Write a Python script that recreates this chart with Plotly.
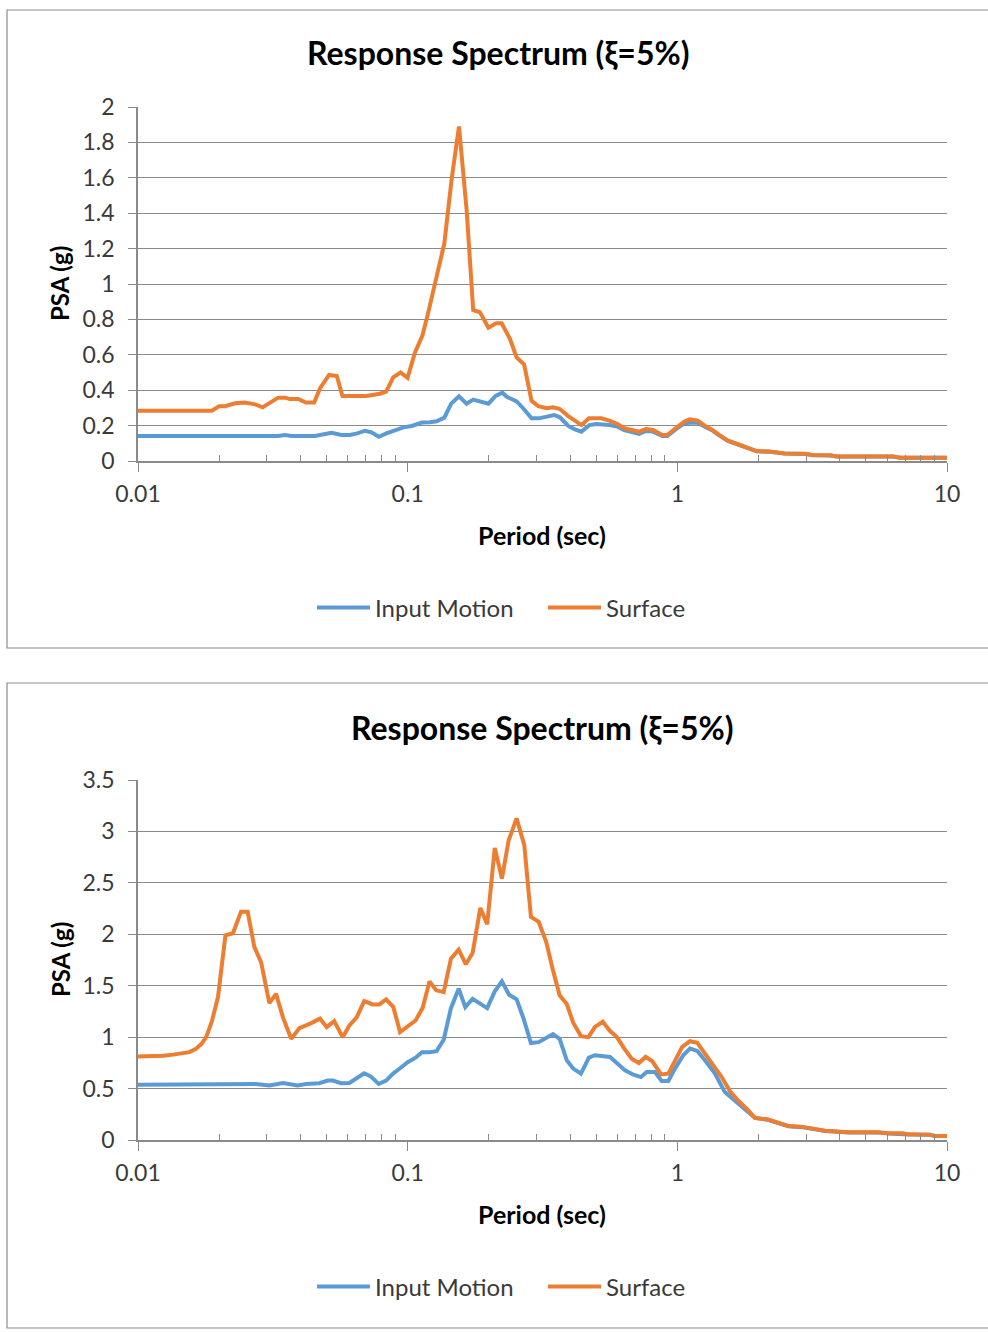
import plotly.graph_objects as go

# ---- Upper panel: period (s) and PSA (g) ----
period_top_input = [0.01, 0.0331, 0.035, 0.0371, 0.0453, 0.0487, 0.0522, 0.0568, 0.061, 0.065,
                    0.0694, 0.0734, 0.0782, 0.0834, 0.0897, 0.0964, 0.1035, 0.1129, 0.121, 0.128,
                    0.1368, 0.145, 0.155, 0.1654, 0.175, 0.186, 0.1993, 0.212, 0.2245, 0.233,
                    0.2535, 0.268, 0.288, 0.306, 0.3276, 0.35, 0.367, 0.394, 0.417, 0.441,
                    0.472, 0.5, 0.5595, 0.6, 0.635, 0.681, 0.7215, 0.764, 0.813, 0.88,
                    0.918, 0.986, 1.06, 1.11, 1.19, 1.28, 1.35, 1.43, 1.54, 1.67,
                    1.8, 1.97, 2.2, 2.5, 3.0, 3.17, 3.7, 3.9, 6.3, 6.7, 10]
psa_top_input = [0.141, 0.141, 0.147, 0.141, 0.141, 0.152, 0.16, 0.147, 0.147, 0.156,
                 0.171, 0.162, 0.137, 0.156, 0.175, 0.19, 0.198, 0.217, 0.219, 0.224,
                 0.245, 0.324, 0.366, 0.324, 0.347, 0.334, 0.324, 0.368, 0.386, 0.363,
                 0.337, 0.298, 0.241, 0.241, 0.25, 0.26, 0.247, 0.198, 0.179, 0.166,
                 0.203, 0.209, 0.203, 0.194, 0.175, 0.162, 0.153, 0.17, 0.166, 0.141,
                 0.141, 0.179, 0.213, 0.216, 0.216, 0.19, 0.172, 0.145, 0.113, 0.094,
                 0.076, 0.055, 0.052, 0.042, 0.040, 0.033, 0.031, 0.025, 0.025, 0.018, 0.018]

period_top_surface = [0.01, 0.0188, 0.02, 0.021, 0.0229, 0.0249, 0.0272, 0.029, 0.0309, 0.0331,
                      0.0352, 0.0366, 0.0393, 0.0419, 0.045, 0.0473, 0.0511, 0.0546, 0.0573, 0.0616,
                      0.07, 0.074, 0.0788, 0.0832, 0.0884, 0.0941, 0.0999, 0.1064, 0.1135, 0.119,
                      0.127, 0.1368, 0.1455, 0.155, 0.1654, 0.175, 0.1855, 0.1993, 0.2126, 0.2232,
                      0.2395, 0.2535, 0.2704, 0.288, 0.305, 0.3276, 0.3466, 0.367, 0.3939, 0.417,
                      0.4413, 0.47, 0.522, 0.5595, 0.6, 0.635, 0.6813, 0.7215, 0.764, 0.813,
                      0.88, 0.918, 0.986, 1.06, 1.11, 1.19, 1.28, 1.35, 1.43, 1.54,
                      1.67, 1.8, 1.97, 2.2, 2.5, 3.0, 3.17, 3.7, 3.9, 6.3, 6.7, 10]
psa_top_surface = [0.284, 0.284, 0.31, 0.31, 0.326, 0.33, 0.32, 0.303, 0.33, 0.358,
                   0.358, 0.35, 0.35, 0.33, 0.33, 0.41, 0.486, 0.48, 0.367, 0.367,
                   0.367, 0.373, 0.38, 0.392, 0.473, 0.5, 0.47, 0.612, 0.71, 0.834,
                   1.02, 1.23, 1.59, 1.89, 1.42, 0.853, 0.84, 0.753, 0.778, 0.778,
                   0.69, 0.585, 0.545, 0.34, 0.31, 0.298, 0.303, 0.294, 0.254, 0.228,
                   0.203, 0.241, 0.241, 0.228, 0.209, 0.185, 0.175, 0.166, 0.181, 0.175,
                   0.147, 0.147, 0.185, 0.222, 0.236, 0.228, 0.194, 0.175, 0.147, 0.115,
                   0.096, 0.077, 0.056, 0.053, 0.043, 0.041, 0.034, 0.032, 0.026, 0.026, 0.019, 0.019]

# ---- Lower panel ----
period_bot_input = [0.01, 0.0255, 0.0274, 0.0307, 0.0345, 0.0391, 0.042, 0.047, 0.0506, 0.0528,
                    0.0566, 0.0608, 0.0648, 0.069, 0.0731, 0.0781, 0.0832, 0.0881, 0.0937, 0.1,
                    0.107, 0.113, 0.1205, 0.128, 0.136, 0.1447, 0.1546, 0.1636, 0.1741, 0.1853,
                    0.1972, 0.2104, 0.2236, 0.2378, 0.2535, 0.269, 0.2865, 0.3062, 0.3265, 0.3458,
                    0.366, 0.389, 0.411, 0.439, 0.47, 0.495, 0.563, 0.596, 0.64, 0.687,
                    0.733, 0.77, 0.826, 0.875, 0.926, 0.98, 1.052, 1.114, 1.186, 1.266,
                    1.379, 1.5, 1.68, 1.94, 2.17, 2.37, 2.58, 2.89, 3.19, 3.53,
                    4.31, 5.56, 6.06, 6.88, 7.18, 8.65, 9.03, 10]
psa_bot_input = [0.536, 0.536, 0.545, 0.53, 0.555, 0.53, 0.545, 0.552, 0.578, 0.578,
                 0.552, 0.555, 0.604, 0.649, 0.617, 0.545, 0.578, 0.643, 0.698, 0.756,
                 0.8, 0.854, 0.854, 0.864, 0.974, 1.282, 1.47, 1.292, 1.373, 1.325,
                 1.282, 1.445, 1.542, 1.412, 1.367, 1.18, 0.942, 0.951, 0.99, 1.03,
                 0.984, 0.775, 0.694, 0.645, 0.801, 0.824, 0.808, 0.749, 0.677, 0.635,
                 0.612, 0.661, 0.661, 0.573, 0.573, 0.694, 0.824, 0.889, 0.866, 0.775,
                 0.645, 0.466, 0.352, 0.215, 0.197, 0.16, 0.133, 0.125, 0.11, 0.088,
                 0.072, 0.072, 0.062, 0.062, 0.053, 0.05, 0.038, 0.038]

period_bot_surface = [0.01, 0.0114, 0.0124, 0.0135, 0.0155, 0.0164, 0.0172, 0.0179, 0.0188, 0.0198,
                      0.0211, 0.0225, 0.0241, 0.0255, 0.027, 0.0286, 0.0307, 0.0325, 0.0345, 0.037,
                      0.0397, 0.0439, 0.0473, 0.0501, 0.0534, 0.0574, 0.0608, 0.0648, 0.069, 0.0742,
                      0.0785, 0.0832, 0.0885, 0.0937, 0.1, 0.107, 0.1137, 0.1205, 0.1276, 0.136,
                      0.1447, 0.1546, 0.1643, 0.1741, 0.186, 0.1972, 0.2104, 0.2236, 0.2367, 0.2535,
                      0.2707, 0.2865, 0.3062, 0.3265, 0.3458, 0.366, 0.389, 0.411, 0.439, 0.468,
                      0.495, 0.529, 0.563, 0.596, 0.636, 0.677, 0.72, 0.763, 0.808, 0.87,
                      0.926, 0.98, 1.043, 1.114, 1.186, 1.266, 1.37, 1.46, 1.57, 1.68,
                      1.81, 1.94, 2.17, 2.37, 2.58, 2.89, 3.19, 3.53, 4.31, 5.56,
                      6.06, 6.88, 7.18, 8.65, 9.03, 10]
psa_bot_surface = [0.812, 0.812, 0.82, 0.83, 0.854, 0.886, 0.935, 1.0, 1.156, 1.39,
                   1.99, 2.01, 2.22, 2.22, 1.877, 1.73, 1.33, 1.42, 1.19, 0.984,
                   1.088, 1.136, 1.18, 1.097, 1.156, 1.0, 1.114, 1.195, 1.35, 1.318,
                   1.318, 1.367, 1.292, 1.049, 1.104, 1.162, 1.286, 1.542, 1.455, 1.438,
                   1.763, 1.85, 1.708, 1.818, 2.256, 2.097, 2.84, 2.542, 2.91, 3.127,
                   2.867, 2.169, 2.12, 1.925, 1.65, 1.406, 1.322, 1.14, 1.01, 1.0,
                   1.1, 1.15, 1.059, 1.003, 0.889, 0.79, 0.749, 0.808, 0.765, 0.638,
                   0.645, 0.775, 0.905, 0.96, 0.945, 0.84, 0.717, 0.612, 0.472, 0.384,
                   0.303, 0.215, 0.199, 0.163, 0.137, 0.13, 0.114, 0.091, 0.075, 0.075,
                   0.065, 0.065, 0.055, 0.052, 0.04, 0.04]

x_tick_vals = [0.01, 0.1, 1, 10]
x_tick_text = ["0.01", "0.1", "1", "10"]
x_minor_vals = [m * d for d in (0.01, 0.1, 1) for m in range(2, 10)]

chart_title = "Response Spectrum (ξ=5%)"
x_title = "Period (sec)"
y_title = "PSA (g)"
series_names = ["Input Motion", "Surface"]

BLUE = "#5B9BD5"
ORANGE = "#ED7D31"
GRID = "#8a8a8a"
FONT = "Lato"
W, H = 988, 1332


def px_x(x):
    return x / W


def px_y(y):
    return 1 - y / H


fig = go.Figure()

fig.add_trace(go.Scatter(x=period_top_input, y=psa_top_input, name=series_names[0], mode="lines",
                         line=dict(color=BLUE, width=4), xaxis="x", yaxis="y", legend="legend"))
fig.add_trace(go.Scatter(x=period_top_surface, y=psa_top_surface, name=series_names[1], mode="lines",
                         line=dict(color=ORANGE, width=4), xaxis="x", yaxis="y", legend="legend"))
fig.add_trace(go.Scatter(x=period_bot_input, y=psa_bot_input, name=series_names[0], mode="lines",
                         line=dict(color=BLUE, width=4), xaxis="x2", yaxis="y2", legend="legend2"))
fig.add_trace(go.Scatter(x=period_bot_surface, y=psa_bot_surface, name=series_names[1], mode="lines",
                         line=dict(color=ORANGE, width=4), xaxis="x2", yaxis="y2", legend="legend2"))

x_dom = [px_x(138), px_x(947)]


def xaxis_cfg(anchor):
    return dict(
        type="log", range=[-2, 1], domain=x_dom, anchor=anchor, automargin=False,
        showgrid=False, zeroline=False,
        showline=True, linecolor=GRID, linewidth=1.5,
        ticks="outside", ticklen=9, tickwidth=1.3, tickcolor=GRID,
        tickvals=x_tick_vals, ticktext=x_tick_text, ticklabelstandoff=3,
        tickfont=dict(family=FONT, size=23, color="#3a3a3a"),
        minor=dict(tickvals=x_minor_vals, ticks="inside", ticklen=6,
                   tickwidth=1.2, tickcolor=GRID, showgrid=False),
    )


def yaxis_cfg(anchor, top_px, bottom_px, ymax, step):
    return dict(
        range=[0, ymax], dtick=step, tick0=0, domain=[px_y(bottom_px), px_y(top_px)],
        anchor=anchor, automargin=False, showgrid=True, gridcolor=GRID, gridwidth=1.3,
        zeroline=False, showline=True, linecolor=GRID, linewidth=1.5,
        ticks="outside", ticklen=8, tickwidth=1.3, tickcolor=GRID, ticklabelstandoff=9,
        tickfont=dict(family=FONT, size=23, color="#3a3a3a"),
    )


legend_common = dict(
    orientation="h", xanchor="left", yanchor="middle",
    font=dict(family=FONT, size=24, color="#3a3a3a"),
    bgcolor="rgba(0,0,0,0)", itemwidth=53, tracegroupgap=0,
    entrywidth=163, entrywidthmode="pixels",
)

fig.update_layout(
    template="none",
    width=W, height=H, margin=dict(l=0, r=0, t=0, b=0, pad=0, autoexpand=False),
    paper_bgcolor="white", plot_bgcolor="white",
    xaxis=xaxis_cfg("y"),
    yaxis=yaxis_cfg("x", 107, 461, 2, 0.2),
    xaxis2=xaxis_cfg("y2"),
    yaxis2=yaxis_cfg("x2", 780, 1140, 3.5, 0.5),
    legend=dict(x=px_x(312), y=px_y(608), **legend_common),
    legend2=dict(x=px_x(312), y=px_y(1287), **legend_common),
    showlegend=True,
)

# chart frames
for top, bottom in ((10, 648), (683, 1328)):
    fig.add_shape(type="rect", xref="paper", yref="paper",
                  x0=px_x(7), x1=px_x(992), y0=px_y(bottom), y1=px_y(top),
                  line=dict(color="#8c8c8c", width=1.2), fillcolor="rgba(0,0,0,0)", layer="below")

# titles and axis titles
for tx, ty in ((498, 53), (542, 727)):
    fig.add_annotation(text=f"<b>{chart_title}</b>", xref="paper", yref="paper",
                       x=px_x(tx), y=px_y(ty), showarrow=False, xanchor="center", yanchor="middle",
                       font=dict(family=FONT, size=32, color="black"))
for ty in (535, 1214):
    fig.add_annotation(text=f"<b>{x_title}</b>", xref="paper", yref="paper",
                       x=px_x(542), y=px_y(ty), showarrow=False, xanchor="center", yanchor="middle",
                       font=dict(family=FONT, size=25, color="black"))
for ty in (284, 960):
    fig.add_annotation(text=f"<b>{y_title}</b>", xref="paper", yref="paper",
                       x=px_x(60), y=px_y(ty), showarrow=False, xanchor="center", yanchor="middle",
                       textangle=-90, font=dict(family=FONT, size=24, color="black"))

fig.write_html("out.html")
